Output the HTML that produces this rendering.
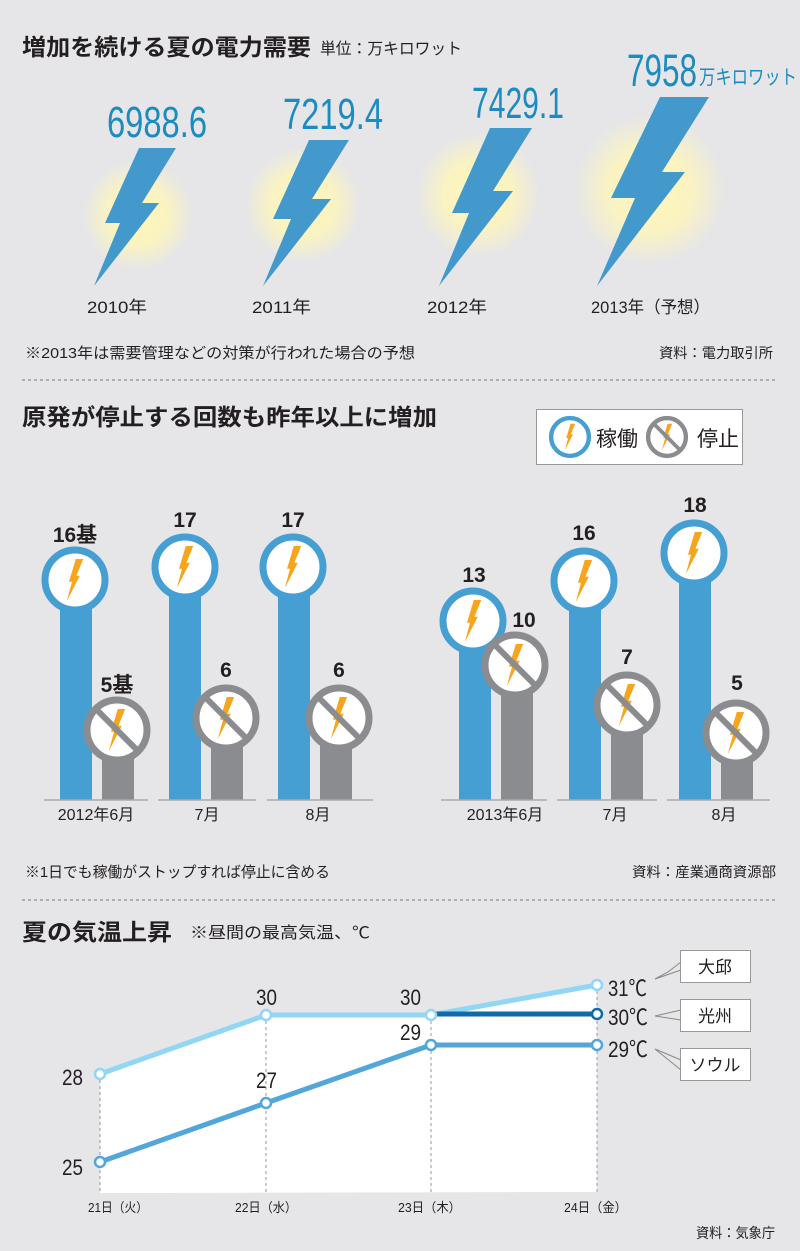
<!DOCTYPE html>
<html><head><meta charset="utf-8"><style>
html,body{margin:0;padding:0;background:#e6e6e8}
svg{display:block}
text{font-family:"Liberation Sans","Noto Sans CJK JP",sans-serif}
</style></head><body>
<svg width="800" height="1251" viewBox="0 0 800 1251" xmlns="http://www.w3.org/2000/svg">
<defs>
<radialGradient id="g"><stop offset="0" stop-color="#fff8b8"/><stop offset="0.55" stop-color="#fff6b8" stop-opacity="0.8"/><stop offset="1" stop-color="#fff6b8" stop-opacity="0"/></radialGradient>
<path id="bolt" d="M0.8,-21 L8.2,-21 L1.4,-4.2 L4.8,-4.2 L-8.2,21.2 L-3,1.8 L-6,1.8 Z" fill="#f6a51d"/>
<g id="on"><circle r="30" fill="#fff" stroke="#459fd3" stroke-width="7"/><use href="#bolt"/></g>
<g id="off"><circle r="30" fill="#fff" stroke="#8b8c8f" stroke-width="7"/><use href="#bolt"/><line x1="-21" y1="-21" x2="21" y2="21" stroke="#8b8c8f" stroke-width="6"/></g>
</defs>
<rect width="800" height="1251" fill="#e6e6e8"/>

<!-- Section 1 -->
<text x="22" y="55" font-size="23" font-weight="bold" fill="#231f20" textLength="289" lengthAdjust="spacingAndGlyphs">増加を続ける夏の電力需要</text>
<text x="320" y="54" font-size="16" fill="#231f20" textLength="142" lengthAdjust="spacingAndGlyphs">単位：万キロワット</text>

<circle cx="138" cy="215" r="55" fill="url(#g)"/>
<circle cx="303" cy="205" r="58" fill="url(#g)"/>
<circle cx="478" cy="195" r="62" fill="url(#g)"/>
<circle cx="650" cy="190" r="75" fill="url(#g)"/>

<polygon points="139,148 176,148 142,203 159,203 94,286 120,223 105,223" fill="#4499cc"/>
<polygon points="309,140 349,140 312,199 331,199 263,286 291,219 273,219" fill="#4499cc"/>
<polygon points="490,128 532,128 493,191 513,191 439,286 469,213 452,213" fill="#4499cc"/>
<polygon points="660,97 709,97 662,172 685,172 597,286 635,198 611,198" fill="#4499cc"/>

<text x="107" y="137" font-size="44" fill="#1b8bc0" textLength="100" lengthAdjust="spacingAndGlyphs">6988.6</text>
<text x="283" y="129" font-size="44" fill="#1b8bc0" textLength="100" lengthAdjust="spacingAndGlyphs">7219.4</text>
<text x="472" y="118" font-size="44" fill="#1b8bc0" textLength="92" lengthAdjust="spacingAndGlyphs">7429.1</text>
<text x="627" y="86" font-size="45" fill="#1b8bc0" textLength="70" lengthAdjust="spacingAndGlyphs">7958</text>
<text x="699" y="84" font-size="20" fill="#1b8bc0" textLength="98" lengthAdjust="spacingAndGlyphs">万キロワット</text>

<text x="87" y="313" font-size="17" fill="#231f20" textLength="60" lengthAdjust="spacingAndGlyphs">2010年</text>
<text x="252" y="313" font-size="17" fill="#231f20" textLength="59" lengthAdjust="spacingAndGlyphs">2011年</text>
<text x="427" y="313" font-size="17" fill="#231f20" textLength="60" lengthAdjust="spacingAndGlyphs">2012年</text>
<text x="591" y="313" font-size="17" fill="#231f20" textLength="119" lengthAdjust="spacingAndGlyphs">2013年（予想）</text>

<text x="25" y="358" font-size="15" fill="#231f20" textLength="390" lengthAdjust="spacingAndGlyphs">※2013年は需要管理などの対策が行われた場合の予想</text>
<text x="659" y="358" font-size="14" fill="#231f20" textLength="114" lengthAdjust="spacingAndGlyphs">資料：電力取引所</text>
<line x1="22" y1="380" x2="776" y2="380" stroke="#777" stroke-width="1" stroke-dasharray="3,3"/>

<!-- Section 2 -->
<text x="22" y="425" font-size="23" font-weight="bold" fill="#231f20" textLength="415" lengthAdjust="spacingAndGlyphs">原発が停止する回数も昨年以上に増加</text>
<rect x="536.5" y="409.5" width="206" height="55" fill="#fff" stroke="#999"/>
<g transform="translate(570,437) scale(0.63)"><use href="#on"/></g>
<text x="596" y="446" font-size="21" fill="#231f20">稼働</text>
<g transform="translate(667,437) scale(0.63)"><use href="#off"/></g>
<text x="697" y="446" font-size="21" fill="#231f20">停止</text>

<g fill="#459fd3">
<rect x="60" y="580" width="32" height="220"/><rect x="169" y="567" width="32" height="233"/><rect x="278" y="567" width="32" height="233"/>
<rect x="459" y="621" width="32" height="179"/><rect x="569" y="581" width="32" height="219"/><rect x="679" y="553" width="32" height="247"/>
</g>
<g fill="#8b8c8f">
<rect x="102" y="730" width="32" height="70"/><rect x="211" y="718" width="32" height="82"/><rect x="320" y="718" width="32" height="82"/>
<rect x="501" y="665" width="32" height="135"/><rect x="611" y="705" width="32" height="95"/><rect x="721" y="733" width="32" height="67"/>
</g>
<g stroke="#aaa" stroke-width="1.5">
<line x1="44" y1="800" x2="148" y2="800"/><line x1="158" y1="800" x2="256" y2="800"/><line x1="267" y1="800" x2="373" y2="800"/>
<line x1="441" y1="800" x2="547" y2="800"/><line x1="557" y1="800" x2="657" y2="800"/><line x1="667" y1="800" x2="770" y2="800"/>
</g>
<use href="#on" x="75" y="580"/><use href="#on" x="185" y="567"/><use href="#on" x="293" y="567"/>
<use href="#on" x="473" y="621"/><use href="#off" x="515" y="665"/>
<use href="#on" x="584" y="581"/><use href="#on" x="694" y="553"/>
<use href="#off" x="117" y="730"/><use href="#off" x="226" y="718"/><use href="#off" x="339" y="718"/>
<use href="#off" x="627" y="705"/><use href="#off" x="736" y="733"/>

<g font-size="21" font-weight="bold" fill="#231f20" text-anchor="middle">
<text x="75" y="542">16基</text><text x="117" y="692">5基</text>
<text x="185" y="527">17</text><text x="226" y="677">6</text>
<text x="293" y="527">17</text><text x="339" y="677">6</text>
<text x="474" y="582">13</text><text x="524" y="627">10</text>
<text x="584" y="540">16</text><text x="627" y="664">7</text>
<text x="695" y="512">18</text><text x="737" y="690">5</text>
</g>
<g font-size="16" fill="#231f20" text-anchor="middle">
<text x="96" y="820">2012年6月</text><text x="207" y="820">7月</text><text x="318" y="820">8月</text>
<text x="505" y="820">2013年6月</text><text x="615" y="820">7月</text><text x="724" y="820">8月</text>
</g>
<text x="25" y="877" font-size="15" fill="#231f20" textLength="305" lengthAdjust="spacingAndGlyphs">※1日でも稼働がストップすれば停止に含める</text>
<text x="632" y="877" font-size="14" fill="#231f20" textLength="144" lengthAdjust="spacingAndGlyphs">資料：産業通商資源部</text>
<line x1="22" y1="900" x2="776" y2="900" stroke="#777" stroke-width="1" stroke-dasharray="3,3"/>

<!-- Section 3 -->
<text x="22" y="940" font-size="23" font-weight="bold" fill="#231f20" textLength="150" lengthAdjust="spacingAndGlyphs">夏の気温上昇</text>
<text x="190" y="938" font-size="16" fill="#231f20" textLength="180" lengthAdjust="spacingAndGlyphs">※昼間の最高気温、℃</text>

<polygon points="100,1074 266,1015 431,1015 597,985 597,1192 100,1193" fill="#fff"/>
<g stroke="#999" stroke-width="1" stroke-dasharray="3,3">
<line x1="100" y1="1074" x2="100" y2="1193"/><line x1="266" y1="1015" x2="266" y2="1193"/>
<line x1="431" y1="1015" x2="431" y2="1193"/><line x1="597" y1="985" x2="597" y2="1193"/>
</g>
<polyline points="100,1074 266,1015 431,1015 597,985" fill="none" stroke="#92d6f5" stroke-width="5"/>
<line x1="431" y1="1014" x2="597" y2="1014" stroke="#0e6aa8" stroke-width="5"/>
<polyline points="100,1162 266,1103 431,1045 597,1045" fill="none" stroke="#52a6da" stroke-width="5"/>
<g fill="#fff" stroke-width="2.5">
<circle cx="100" cy="1074" r="5" stroke="#92d6f5"/><circle cx="266" cy="1015" r="5" stroke="#92d6f5"/>
<circle cx="431" cy="1015" r="5" stroke="#92d6f5"/><circle cx="597" cy="985" r="5" stroke="#92d6f5"/>
<circle cx="597" cy="1014" r="5" stroke="#0e6aa8"/>
<circle cx="100" cy="1162" r="5" stroke="#52a6da"/><circle cx="266" cy="1103" r="5" stroke="#52a6da"/>
<circle cx="431" cy="1045" r="5" stroke="#52a6da"/><circle cx="597" cy="1045" r="5" stroke="#52a6da"/>
</g>
<g font-size="22" fill="#231f20">
<text x="62" y="1085" textLength="21" lengthAdjust="spacingAndGlyphs">28</text>
<text x="62" y="1175" textLength="21" lengthAdjust="spacingAndGlyphs">25</text>
<text x="256" y="1005" textLength="21" lengthAdjust="spacingAndGlyphs">30</text>
<text x="400" y="1005" textLength="21" lengthAdjust="spacingAndGlyphs">30</text>
<text x="256" y="1088" textLength="21" lengthAdjust="spacingAndGlyphs">27</text>
<text x="400" y="1040" textLength="21" lengthAdjust="spacingAndGlyphs">29</text>
<text x="608" y="996" textLength="39" lengthAdjust="spacingAndGlyphs">31℃</text>
<text x="608" y="1025" textLength="40" lengthAdjust="spacingAndGlyphs">30℃</text>
<text x="608" y="1057" textLength="40" lengthAdjust="spacingAndGlyphs">29℃</text>
</g>
<g fill="#fff" stroke="#999">
<rect x="680.5" y="950.5" width="70" height="32"/><rect x="680.5" y="999.5" width="70" height="32"/><rect x="680.5" y="1048.5" width="70" height="32"/>
</g>
<g fill="none" stroke="#888" stroke-width="1">
<polyline points="681,962 668,972 655,979 681,970"/>
<polyline points="681,1010 655,1016 681,1020"/>
<polyline points="681,1060 655,1049 681,1070"/>
</g>
<g font-size="17" fill="#231f20" text-anchor="middle">
<text x="715" y="973">大邱</text><text x="715" y="1022">光州</text><text x="715" y="1071">ソウル</text>
</g>
<g font-size="13" fill="#231f20">
<text x="88" y="1212" textLength="60" lengthAdjust="spacingAndGlyphs">21日（火）</text>
<text x="235" y="1212" textLength="62" lengthAdjust="spacingAndGlyphs">22日（水）</text>
<text x="398" y="1212" textLength="63" lengthAdjust="spacingAndGlyphs">23日（木）</text>
<text x="564" y="1212" textLength="63" lengthAdjust="spacingAndGlyphs">24日（金）</text>
</g>
<text x="696" y="1238" font-size="14" fill="#231f20" textLength="79" lengthAdjust="spacingAndGlyphs">資料：気象庁</text>
</svg>
</body></html>
